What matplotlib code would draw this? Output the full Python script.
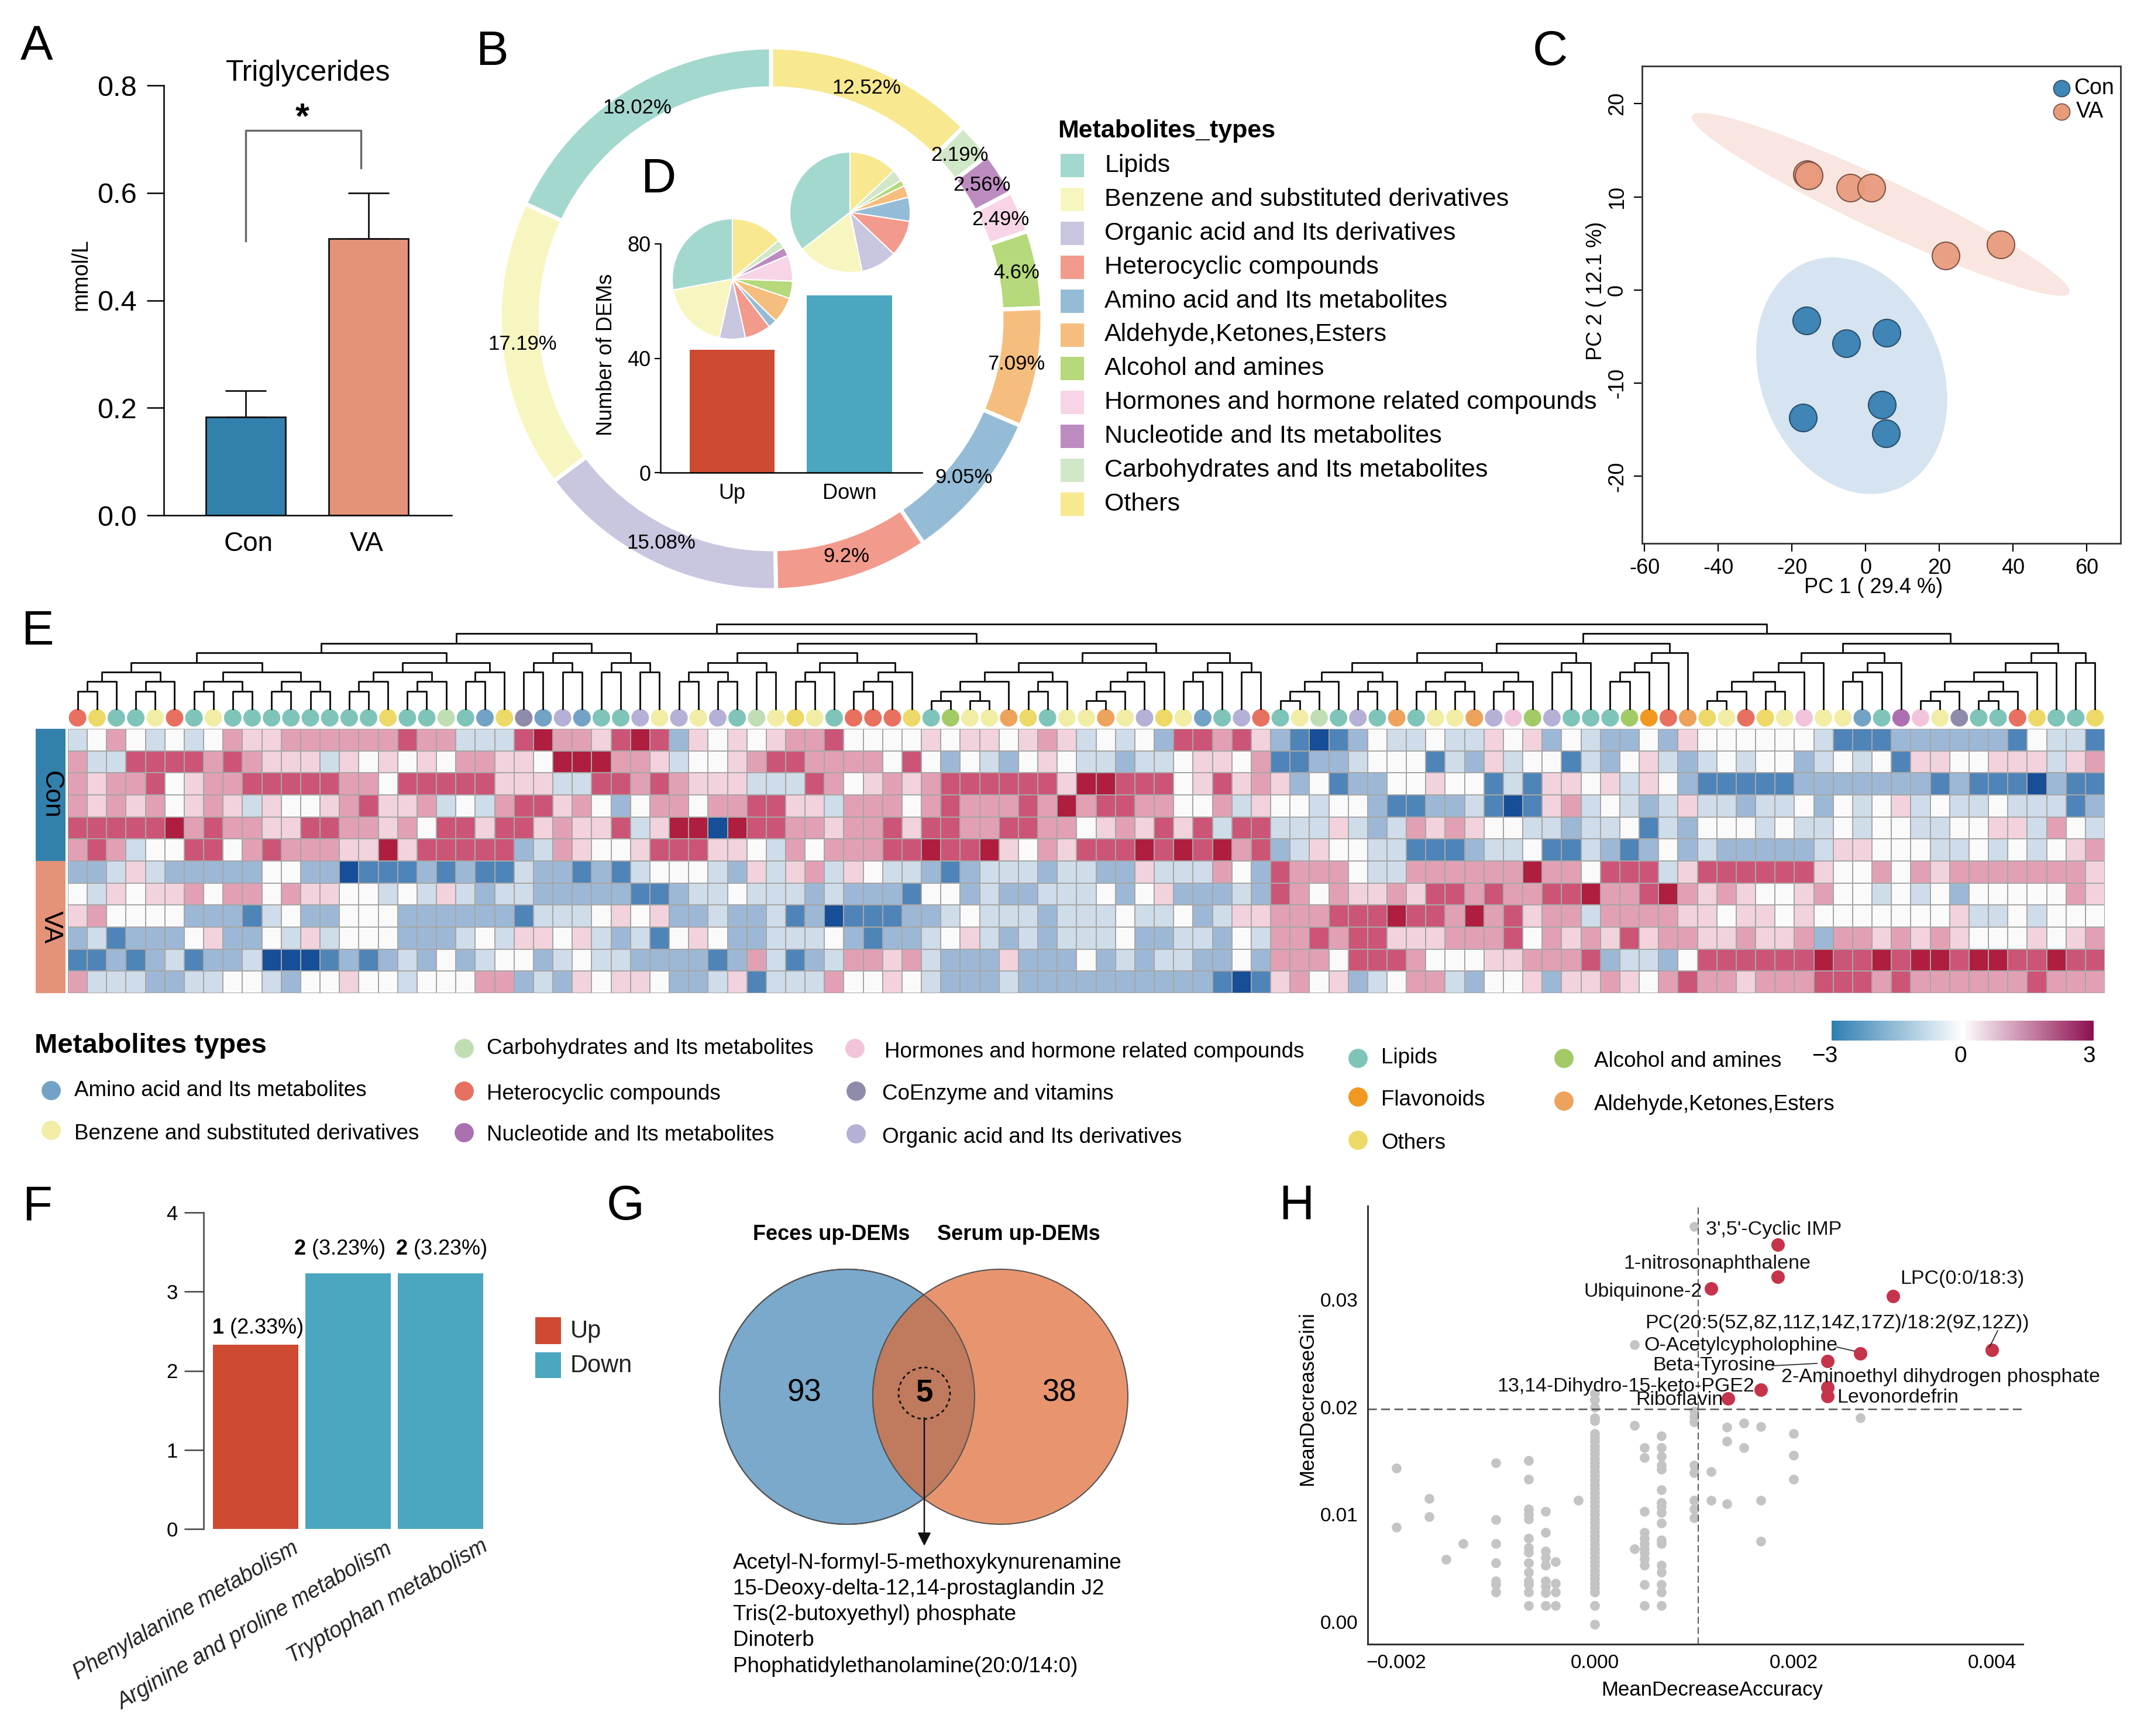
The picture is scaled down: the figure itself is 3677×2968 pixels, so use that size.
import numpy as np
import matplotlib
matplotlib.use('Agg')
import matplotlib.pyplot as plt
from matplotlib.colors import LinearSegmentedColormap
from matplotlib.patches import Circle, Rectangle

plt.rcParams['font.family'] = ['Liberation Sans', 'DejaVu Sans']
plt.rcParams['mathtext.fontset'] = 'custom'
plt.rcParams['mathtext.bf'] = 'Liberation Sans:bold'
plt.rcParams['mathtext.rm'] = 'Liberation Sans'
plt.rcParams['axes.unicode_minus'] = False

W, H = 3677, 2968

# A
tg_groups = ['Con', 'VA']
tg_means = [0.183, 0.515]
tg_err = [0.0485, 0.085]

# B
type_names = ['Lipids', 'Benzene and substituted derivatives', 'Organic acid and Its derivatives',
              'Heterocyclic compounds', 'Amino acid and Its metabolites', 'Aldehyde,Ketones,Esters',
              'Alcohol and amines', 'Hormones and hormone related compounds',
              'Nucleotide and Its metabolites', 'Carbohydrates and Its metabolites', 'Others']
type_colors = ['#A3D8CF', '#F8F6C0', '#C9C6E0', '#F29A8C', '#95BCD6', '#F6BE7E',
               '#B5D97B', '#F7D5E6', '#BC8CC0', '#D1E8C8', '#F8E88F']
ring_order = [10, 9, 8, 7, 6, 5, 4, 3, 2, 1, 0]
ring_values = [12.52, 2.19, 2.56, 2.49, 4.6, 7.09, 9.05, 9.2, 15.08, 17.19, 18.02]

# D
dem_groups = ['Up', 'Down']
dem_counts = [43, 62]
pie_up_types = [10, 9, 8, 7, 6, 5, 4, 3, 2, 1, 0]
pie_up_counts = [6, 1, 1, 3, 2, 3, 1, 3, 3, 8, 12]
pie_down_types = [10, 9, 6, 5, 4, 3, 2, 1, 0]
pie_down_counts = [8, 2, 1, 2, 4, 6, 6, 11, 22]

# C
pca_con_x = [-16.0, -5.2, 5.7, -17.0, 4.4, 5.5]
pca_con_y = [-3.3, -5.7, -4.6, -13.7, -12.3, -15.4]
pca_va_x = [-15.9, -15.5, -4.1, 1.6, 21.7, 36.6]
pca_va_y = [12.4, 12.3, 11.0, 11.0, 3.7, 4.9]

# E, one digit per cell: 0 darkest blue, 4 white, 8 crimson
heat_rows = [
    '34643434655666666766333786' '65787254545667444454554565' '34342776752101243343354524' '322425444444311122222214331',
    '63377776765553545454665548' '88665344567766664742432454' '33233455461122344413253441' '324532343442343415544555356',
    '65667456677777664777775553' '37767655533376456567777775' '88777457565241224454413155' '453542111112222222121110211',
    '65656456535445675563436775' '64246646677553666467666768' '67766446354434421122310156' '343235332334243453433433312',
    '77777867665577665647757756' '55735880877665667577667766' '45657573773335323656544332' '334132444343343443344553643',
    '67634477467666558577777236' '54457775543646667787785465' '77787878672354433111233411' '321242322222355444334343456',
    '22353222224422011121211322' '12134443253563543321233323' '32253336427666433666666866' '477735777777544646566666665',
    '43545564664655443435323322' '22211233433323222144232233' '34245222327646556577676677' '866786565445644343424444465',
    '56444422213422444222222133' '34545223223120111223433323' '33433423556667778776867566' '366665545545444444453343444',
    '23122245224353444222343554' '53231454223334212234532323' '33422332436676775556667465' '657566556556266565654445456',
    '11212312230001212324234423' '43322221263123665632225222' '42323322426664777644455666' '723324777777877878878877877',
    '63332233443244544344466232' '54554223513336445432223222' '22222221015645234663244525' '565467665666777676666667666',
]
col_types = ('ROLLBRLBLLLLLLLLOLLCLAOGAV' 'ALLVBVBVLCBOBLRRROLHBBKOLB'
             'BKBVOBALVRLBCLVLKLBBKVMHVL' 'LLHFRKOBROBMBBALNMBGLLROLLO')
dot_colors = {'L': '#7FC4B8', 'B': '#F1EDA5', 'V': '#B5B0D6', 'R': '#E8705F', 'A': '#72A3C6',
              'K': '#EDA35C', 'H': '#A2CB66', 'M': '#F2C4DC', 'N': '#AC6FB0', 'C': '#C0DEB4',
              'O': '#ECD968', 'G': '#8E8BAB', 'F': '#F0981F'}

# dendrogram, leaves are column numbers
t_a = (((1, 2), 3), ((4, 5), 6))
t_b = (((7, 8), (9, 10)), ((11, 12), (13, 14)))
t_c = (((15, 16), 17), ((18, 19), 20))
t_d = ((21, 22), 23)
t_e = (((24, 25), (26, 27)), ((28, 29), (30, 31)))
q1 = (((t_a, t_b), (t_c, t_d)), t_e)
t_f = (((32, 33), (34, 35)), (36, 37))
t_g = (((38, 39), 40), (((41, 42), 43), 44))
t_h = (((((45, 46), (47, 48)), 49), ((50, 51), 52)), ((((53, 54), 55), 56), 57))
t_i = (((58, 59), 60), (61, 62))
q2 = ((t_f, t_g), (t_h, t_i))
t_j = (((((63, 64), 65), 66), ((67, 68), 69)), (((70, 71), (72, 73)), ((74, 75), 76)))
t_k = ((77, 78), 79)
t_l = ((((80, 81), 82), 83), 84)
q3 = ((t_j, t_k), t_l)
t_m = ((((((85, 86), 87), (88, 89)), 90), 91))
t_n = (((92, 93), 94), 95)
t_o = (((((96, 97), 98), ((99, 100), 101)), 102), 103)
q4 = ((t_m, t_n), (t_o, (104, 105)))
tree = ((q1, q2), (q3, q4))

legend_e_items = ['Carbohydrates and Its metabolites', 'Hormones and hormone related compounds', 'Lipids',
                  'Alcohol and amines', 'Amino acid and Its metabolites', 'Heterocyclic compounds',
                  'CoEnzyme and vitamins', 'Flavonoids', 'Aldehyde,Ketones,Esters',
                  'Benzene and substituted derivatives', 'Nucleotide and Its metabolites',
                  'Organic acid and Its derivatives', 'Others']
legend_e_keys = 'CMLHARGFKBNVO'

# F
path_names = ['Phenylalanine metabolism', 'Arginine and proline metabolism', 'Tryptophan metabolism']
path_values = [2.33, 3.23, 3.23]
path_counts = [1, 2, 2]
path_dirs = ['Up', 'Down', 'Down']

# G
venn_counts = [93, 5, 38]
venn_names = ['Feces up-DEMs', 'Serum up-DEMs']
venn_shared = ['Acetyl-N-formyl-5-methoxykynurenamine', '15-Deoxy-delta-12,14-prostaglandin J2',
               'Tris(2-butoxyethyl) phosphate', 'Dinoterb', 'Phophatidylethanolamine(20:0/14:0)']

# H
gray_x = [-0.002, -0.00167, -0.0015, -0.00133, -0.001, -0.00067, -0.0005, -0.0004, -0.00017, 0.0,
          0.0004, 0.0005, 0.00067, 0.001, 0.00117, 0.00133, 0.0015, 0.00167, 0.002, 0.00267]
gray_y = [
    [.0143, .0088], [.0115, .0098], [.0058], [.0073],
    [.0148, .0095, .0073, .0055, .0038, .0035, .0028],
    [.0150, .0133, .0105, .0100, .0096, .0078, .0069, .0065, .0055, .0046, .0038, .0035, .0028, .0015],
    [.0103, .0083, .0066, .0060, .0053, .0038, .0033, .0027, .0015],
    [.0056, .0036, .0028, .0015], [.0113],
    [.0213, .0207, .0200, .0190, .0187, .0175, .0172, .0168, .0164, .0160, .0156, .0152, .0148, .0144,
     .0140, .0136, .0132, .0128, .0124, .0120, .0116, .0112, .0108, .0104, .0100, .0096, .0092, .0088,
     .0084, .0080, .0076, .0072, .0068, .0064, .0060, .0056, .0052, .0048, .0044, .0040, .0036, .0032,
     .0028, .0015, -.0002],
    [.0258, .0183, .0068],
    [.0162, .0153, .0103, .0083, .0078, .0073, .0068, .0064, .0059, .0053, .0035, .0015],
    [.0173, .0162, .0154, .0146, .0142, .0123, .0111, .0107, .0102, .0092, .0076, .0073, .0053, .0046,
     .0035, .0028, .0015],
    [.0368, .0196, .0191, .0186, .0146, .0139, .0113, .0105, .0097],
    [.0140, .0113], [.0181, .0168, .0110], [.0185, .0162], [.0182, .0113, .0075],
    [.0175, .0155, .0133], [.0190],
]
red_x = [.00184, .00184, .00117, .0030, .0040, .00267, .00234, .00234, .00234, .00167, .00134]
red_y = [.0351, .0321, .0310, .0303, .0253, .0250, .0243, .0218, .0210, .0216, .0208]
red_names = ["3',5'-Cyclic IMP", '1-nitrosonaphthalene', 'Ubiquinone-2', 'LPC(0:0/18:3)',
             'PC(20:5(5Z,8Z,11Z,14Z,17Z)/18:2(9Z,12Z))', 'O-Acetylcypholophine', 'Beta-Tyrosine',
             '2-Aminoethyl dihydrogen phosphate', 'Levonordefrin', '13,14-Dihydro-15-keto-PGE2', 'Riboflavin']
red_label_px = [(2916, 2102), (2775, 2161), (2707, 2209), (3248, 2187), (2812, 2262), (2810, 2301),
                (2825, 2335), (3045, 2355), (3140, 2389), (2559, 2370), (2796, 2394)]

CON = '#3380AD'
VA = '#E59378'
UP = '#CE4B32'
DOWN = '#4BA6BF'

fig = plt.figure(figsize=(W / 100, H / 100), dpi=100)


def box(x0, y0, x1, y1):
    return fig.add_axes([x0 / W, 1 - y1 / H, (x1 - x0) / W, (y1 - y0) / H])


ov = fig.add_axes([0, 0, 1, 1], zorder=20)
ov.set_xlim(0, W)
ov.set_ylim(H, 0)
ov.axis('off')
ov.patch.set_alpha(0)

for letter, lx, ly in [('A', 63, 80), ('B', 841, 89), ('C', 2650, 89), ('D', 1125, 307),
                       ('E', 64, 1080), ('F', 64, 2063), ('G', 1069, 2063), ('H', 2216, 2063)]:
    ov.text(lx, ly, letter, fontsize=60, ha='center', va='center')

# ---- A
ax = box(280, 146, 772, 881)
ax.bar([0, 1], tg_means, width=0.65, color=[CON, VA], edgecolor='#111111', linewidth=2)
ax.errorbar([0, 1], tg_means, yerr=[[0, 0], tg_err], fmt='none', ecolor='#111111', elinewidth=2,
            capsize=25, capthick=2)
ax.plot([0, 0, 0.94, 0.94], [0.51, 0.716, 0.716, 0.646], color='#666666', lw=2.4)
ax.text(0.46, 0.738, '*', fontsize=44, fontweight='bold', ha='center', va='center')
ax.set_xlim(-0.667, 1.676)
ax.set_ylim(0, 0.8)
ax.set_yticks([0, 0.2, 0.4, 0.6, 0.8])
ax.set_xticks([])
ax.tick_params(axis='y', length=21, width=1.8, labelsize=35, pad=12)
for s in ['top', 'right']:
    ax.spines[s].set_visible(False)
for s in ['left', 'bottom']:
    ax.spines[s].set_linewidth(1.8)
ov.text(527, 125, 'Triglycerides', fontsize=36, ha='center', va='center')
ov.text(138, 470, 'mmol/L', fontsize=27, rotation=90, ha='center', va='center')
ov.text(425, 930, tg_groups[0], fontsize=33, ha='center', va='center')
ov.text(627, 930, tg_groups[1], fontsize=33, ha='center', va='center')

# ---- B
cx, cy, R = 1318, 545, 464
ax = box(cx - R, cy - R, cx + R, cy + R)
ax.pie(ring_values, colors=[type_colors[i] for i in ring_order], startangle=90, counterclock=False,
       radius=1, wedgeprops=dict(width=0.151, edgecolor='white', linewidth=5))
ax.set_xlim(-1, 1)
ax.set_ylim(-1, 1)
cum = 0
for v in ring_values:
    a = np.deg2rad(90 - (cum + v / 2) * 3.6)
    cum += v
    ax.text(0.92 * np.cos(a), 0.92 * np.sin(a), f'{v}%', fontsize=25, ha='center', va='center')

ov.text(1808, 224, 'Metabolites_types', fontsize=31, fontweight='bold', ha='left', va='center')
for i, name in enumerate(type_names):
    yy = 283 + i * 57.9
    ov.add_patch(Rectangle((1813, yy - 20), 40, 40, color=type_colors[i], lw=0))
    ov.text(1888, yy, name, fontsize=31, ha='left', va='center')

# ---- D
ax = box(1129, 417, 1576, 808)
ax.bar([0, 1], dem_counts, width=0.725, color=[UP, DOWN])
ax.set_xlim(-0.609, 1.616)
ax.set_ylim(0, 80)
ax.set_yticks([0, 40, 80])
ax.set_xticks([0, 1])
ax.set_xticklabels(dem_groups)
ax.tick_params(axis='y', length=7, width=1.6, labelsize=26, pad=5)
ax.tick_params(axis='x', length=0, labelsize=26, pad=13)
ax.patch.set_alpha(0)
for s in ['top', 'right']:
    ax.spines[s].set_visible(False)
for s in ['left', 'bottom']:
    ax.spines[s].set_linewidth(1.8)
ov.text(1037, 606, 'Number of DEMs', fontsize=26, rotation=90, ha='center', va='center')

for pcx, pcy, vals, kinds in [(1252, 477, pie_up_counts, pie_up_types),
                              (1453, 363, pie_down_counts, pie_down_types)]:
    ax = box(pcx - 103, pcy - 103, pcx + 103, pcy + 103)
    ax.pie(vals, colors=[type_colors[i] for i in kinds], startangle=90, counterclock=False, radius=1,
           wedgeprops=dict(edgecolor='white', linewidth=1.5))
    ax.set_xlim(-1, 1)
    ax.set_ylim(-1, 1)

# ---- C
ax = box(2807, 113, 3625, 929)
t = np.linspace(0, 2 * np.pi, 200)
ax.fill(-3.8 + 25.4 * np.cos(t) - 5.2 * np.sin(t), -9.2 + 12.7 * np.sin(t), color='#D5E4F0', lw=0)
ax.fill(4.1 + 51.3 * np.cos(t), 9.2 - 9.35 * np.cos(t) + 3.0 * np.sin(t), color='#F9E6E0', lw=0)
ax.scatter(pca_con_x, pca_con_y, s=1150, color='#3F85B5', edgecolor='#2b4f6b', linewidth=1.5, zorder=3)
ax.scatter(pca_va_x, pca_va_y, s=1150, color='#E99B7E', edgecolor='#7a5040', linewidth=1.5, alpha=0.95, zorder=3)
ax.set_xlim(-60.7, 69.2)
ax.set_ylim(-27.2, 24.04)
ax.set_xticks([-60, -40, -20, 0, 20, 40, 60])
ax.set_yticks([-20, -10, 0, 10, 20])
ax.tick_params(length=10, width=1.6, labelsize=26, pad=8)
for lab in ax.get_yticklabels():
    lab.set_rotation(90)
    lab.set_va('center')
for s in ax.spines.values():
    s.set_linewidth(2)
    s.set_color('#333333')
ax.scatter([0.877], [0.953], s=410, color='#3F85B5', edgecolor='#2b4f6b', linewidth=1.2,
           transform=ax.transAxes, zorder=4)
ax.scatter([0.877], [0.905], s=410, color='#E99B7E', edgecolor='#7a5040', linewidth=1.2,
           transform=ax.transAxes, zorder=4)
ax.text(0.902, 0.953, 'Con', fontsize=27, va='center', transform=ax.transAxes)
ax.text(0.907, 0.905, 'VA', fontsize=27, va='center', transform=ax.transAxes)
ov.text(3203, 1005, 'PC 1 ( 29.4 %)', fontsize=26, ha='center', va='center')
ov.text(2729, 497, 'PC 2 ( 12.1 %)', fontsize=26, rotation=90, ha='center', va='center')

# ---- E
mat = np.array([[(int(c) - 4) * 0.7 for c in row] for row in heat_rows])
heat_cmap = LinearSegmentedColormap.from_list('heat', [
    (0, '#08408f'), (0.15, '#4f84b8'), (0.267, '#9db8d6'), (0.383, '#cfdce9'), (0.5, '#fbfbfc'),
    (0.617, '#f2d2dc'), (0.733, '#e2a0b4'), (0.85, '#cc5577'), (1, '#a80f30')])
ax = box(116, 1246, 3598, 1698)
ax.pcolormesh(mat, cmap=heat_cmap, vmin=-3, vmax=3, edgecolors='#a6a6a6', linewidth=1.1)
ax.set_ylim(12, 0)
ax.axis('off')
dot_x = np.arange(len(col_types)) + 0.5
ax.scatter(dot_x, [-0.5] * len(dot_x), s=466, c=[dot_colors[k] for k in col_types], clip_on=False, lw=0)
ov.add_patch(Rectangle((61, 1246), 51, 226, color=CON, lw=0))
ov.add_patch(Rectangle((61, 1472), 51, 226, color=VA, lw=0))
ov.text(87, 1359, 'Con', fontsize=32, rotation=270, ha='center', va='center')
ov.text(87, 1585, 'VA', fontsize=32, rotation=270, ha='center', va='center')

dax = box(116, 1067, 3598, 1212)
dax.set_xlim(0, 105)
dax.set_ylim(8.85, 0)
dax.axis('off')


def draw_node(node, depth):
    if isinstance(node, int):
        return node - 0.5, 8.85
    a = draw_node(node[0], depth + 1)
    b = draw_node(node[1], depth + 1)
    dax.plot([a[0], a[0], b[0], b[0]], [a[1], depth, depth, b[1]], color='#111111', lw=2.1, clip_on=False)
    return (a[0] + b[0]) / 2, depth


draw_node(tree, 0)

ov.text(59, 1788, 'Metabolites types', fontsize=34, fontweight='bold', ha='left', va='center')
leg_pos = [(793, 1788, 832, 1788), (1461, 1788, 1512, 1795), (2321, 1805, 2361, 1805),
           (2673, 1805, 2725, 1811), (87, 1860, 127, 1860), (793, 1861, 832, 1867),
           (1463, 1861, 1508, 1867), (2321, 1871, 2361, 1876), (2673, 1878, 2725, 1884),
           (87, 1928, 127, 1934), (793, 1932, 832, 1937), (1463, 1934, 1508, 1940),
           (2321, 1945, 2361, 1951)]
for name, key, (mx, my, tx, ty) in zip(legend_e_items, legend_e_keys, leg_pos):
    ov.scatter([mx], [my + 4], s=560, color=dot_colors[key], lw=0)
    ov.text(tx, ty + 4, name, fontsize=26.5, ha='left', va='center')

cax = box(3131, 1745, 3579, 1779)
bar_cmap = LinearSegmentedColormap.from_list('bar', ['#2F7FB2', '#ffffff', '#8E1050'])
cax.imshow(np.linspace(-3, 3, 256)[None, :], cmap=bar_cmap, aspect='auto', extent=[-3, 3, 0, 1])
cax.axis('off')
for lab, px in zip(['\u22123', '0', '3'], [3119, 3351, 3571]):
    ov.text(px, 1806, lab, fontsize=28, ha='center', va='center')

# ---- F
ax = box(348, 2073, 850, 2614)
ax.bar([0, 1, 2], path_values, width=0.924, color=[UP if d == 'Up' else DOWN for d in path_dirs])
for i, (v, n) in enumerate(zip(path_values, path_counts)):
    ax.text(i + [0.02, -0.094, 0.006][i], v + [0.065, 0.167, 0.167][i], rf'$\mathbf{{{n}}}$ ({v}%)',
            fontsize=26, ha='center', va='bottom')
ax.set_xlim(-0.563, 2.614)
ax.set_ylim(0, 4)
ax.set_yticks([0, 1, 2, 3, 4])
ax.set_xticks([])
ax.tick_params(axis='y', length=24, width=1.8, labelsize=25, pad=8, color='#444444')
for s in ['top', 'right', 'bottom']:
    ax.spines[s].set_visible(False)
ax.spines['left'].set_linewidth(1.8)
ax.spines['left'].set_color('#444444')
for name, px, py in zip(path_names, [498, 659, 822], [2629, 2631, 2625]):
    ov.text(px, py, name, fontsize=27, style='italic', rotation=30, ha='right', va='top',
            rotation_mode='anchor', color='#222222')
ov.add_patch(Rectangle((915, 2252), 44, 46, color=UP, lw=0))
ov.add_patch(Rectangle((915, 2312), 44, 44, color=DOWN, lw=0))
ov.text(975, 2276, 'Up', fontsize=30, va='center', color='#222222')
ov.text(975, 2335, 'Down', fontsize=30, va='center', color='#222222')

# ---- G
left = Circle((1448, 2388), 218, facecolor='#7AA9CC', edgecolor='#555555', lw=1.5)
right = Circle((1710, 2388), 218, facecolor='#E8956F', edgecolor='#555555', lw=1.5)
ov.add_patch(left)
ov.add_patch(right)
both = Circle((1710, 2388), 218, facecolor='#C07A5E', edgecolor='#555555', lw=1.5)
ov.add_patch(both)
both.set_clip_path(Circle((1448, 2388), 218, transform=ov.transData))
edge = Circle((1448, 2388), 218, facecolor='none', edgecolor='#555555', lw=1.5)
ov.add_patch(edge)
ov.add_patch(Circle((1580, 2382), 44, facecolor='none', edgecolor='#111111', lw=2, linestyle=(0, (2, 2))))
ov.text(1375, 2382, str(venn_counts[0]), fontsize=38, ha='center', va='center')
ov.text(1580, 2382, str(venn_counts[1]), fontsize=38, fontweight='bold', ha='center', va='center')
ov.text(1810, 2382, str(venn_counts[2]), fontsize=38, ha='center', va='center')
ov.annotate('', xy=(1580, 2643), xytext=(1580, 2424),
            arrowprops=dict(arrowstyle='-|>', color='#111111', lw=1.8, mutation_scale=34, shrinkA=0, shrinkB=0))
ov.text(1421, 2111, venn_names[0], fontsize=26, fontweight='bold', ha='center', va='center')
ov.text(1741, 2111, venn_names[1], fontsize=26, fontweight='bold', ha='center', va='center')
for i, line in enumerate(venn_shared):
    ov.text(1253, 2672 + i * 44.3, line, fontsize=26.5, ha='left', va='center')

# ---- H
ax = box(2338, 2062, 3458, 2811)
for gx, ys in zip(gray_x, gray_y):
    ax.scatter([gx] * len(ys), ys, s=145, color='#C4C4C4', lw=0)
ax.scatter(red_x, red_y, s=275, color='#C5344A', lw=0, zorder=4)
ax.axhline(0.0198, color='#555555', lw=1.8, ls=(0, (6, 3)), zorder=2)
ax.axvline(0.00104, color='#555555', lw=1.4, ls=(0, (6, 3)), zorder=2)
ax.set_xlim(-0.002289, 0.00431)
ax.set_ylim(-0.00207, 0.0387)
ax.set_xticks([-0.002, 0, 0.002, 0.004])
ax.set_xticklabels(['\u22120.002', '0.000', '0.002', '0.004'])
ax.set_yticks([0, 0.01, 0.02, 0.03])
ax.set_yticklabels(['0.00', '0.01', '0.02', '0.03'])
ax.tick_params(length=0, labelsize=24, pad=12)
for s in ['top', 'right']:
    ax.spines[s].set_visible(False)
for s in ['left', 'bottom']:
    ax.spines[s].set_linewidth(2.2)
    ax.spines[s].set_color('#333333')
for name, (px, py) in zip(red_names, red_label_px):
    ov.text(px, py, name, fontsize=24.5, ha='left', va='center', color='#111111')
for xs, ys in [((3415, 3401), (2275, 2303)), ((3140, 3170), (2303, 2310)), ((3029, 3106), (2335, 2331))]:
    ov.plot(xs, ys, color='#222222', lw=1.2)
ov.text(2927, 2889, 'MeanDecreaseAccuracy', fontsize=25, ha='center', va='center')
ov.text(2235, 2391, 'MeanDecreaseGini', fontsize=25, rotation=90, ha='center', va='center')

fig.savefig('out.png', dpi=100)
